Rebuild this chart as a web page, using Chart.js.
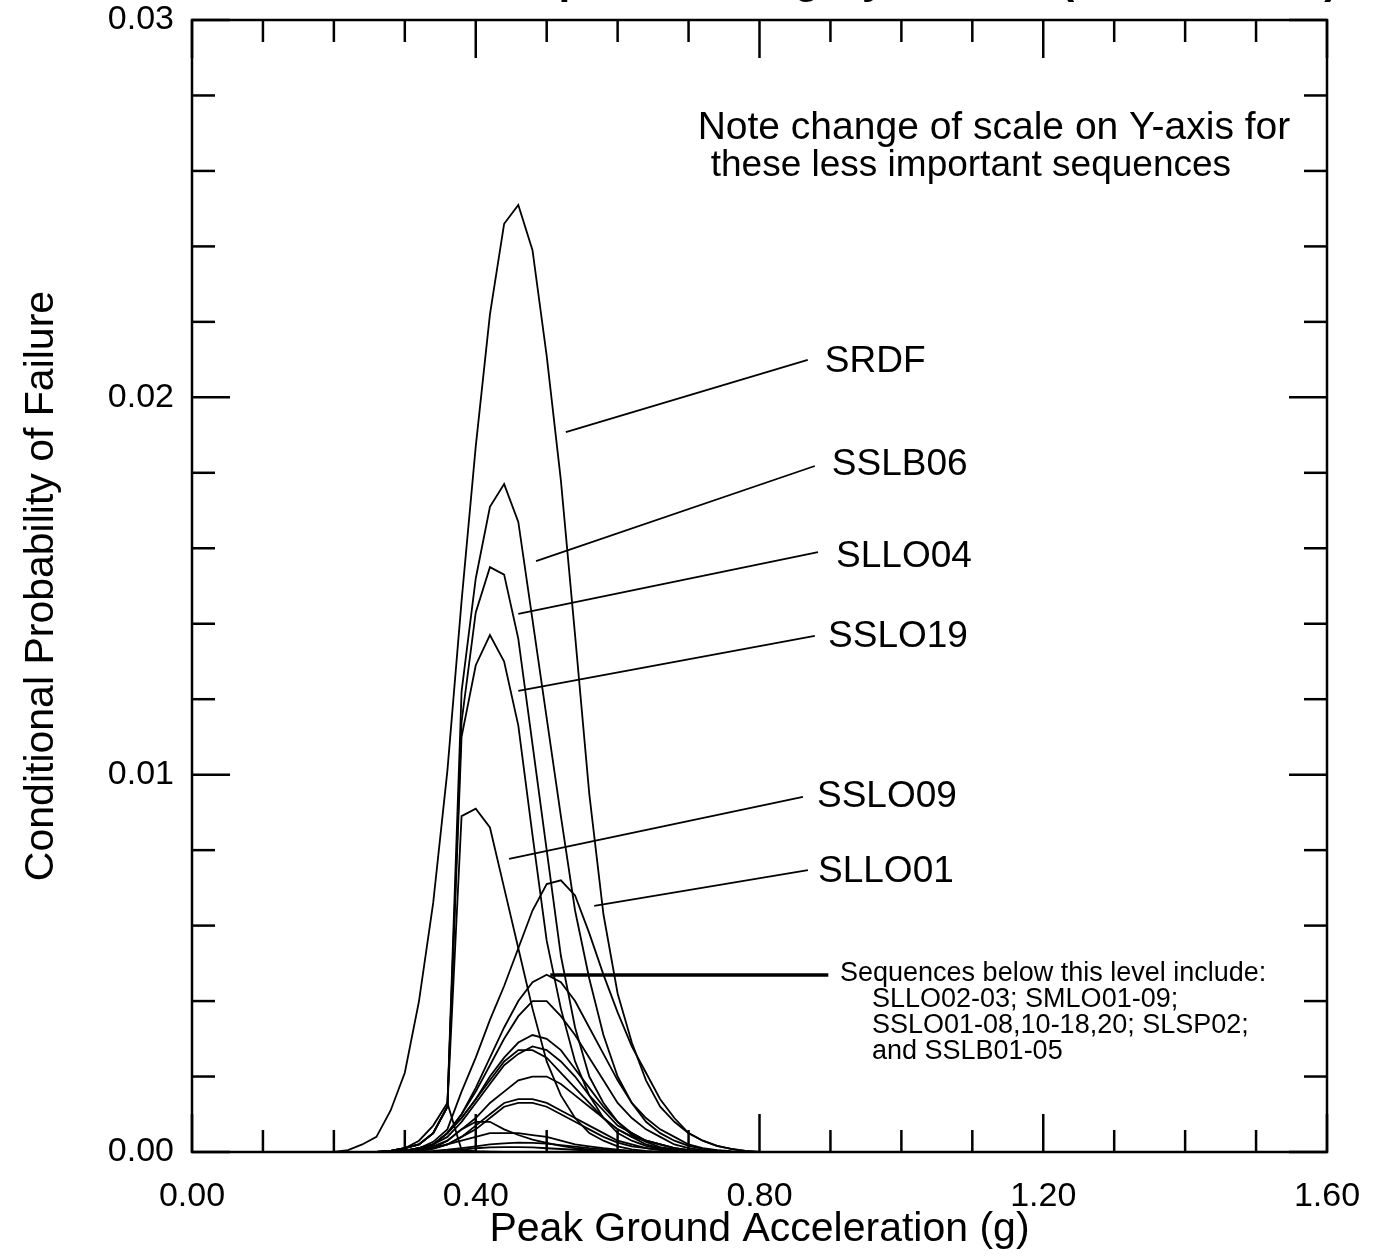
<!DOCTYPE html>
<html>
<head>
<meta charset="utf-8">
<script src="https://cdn.jsdelivr.net/npm/chart.js@4.4.1/dist/chart.umd.min.js"></script>
<style>
  html, body { margin: 0; padding: 0; background: #fff; }
  canvas { display: block; }
</style>
</head>
<body>
<canvas id="c" width="1374" height="1259"></canvas>
<script>
// peak ground acceleration grid (g)
const pga = [0.20, 0.22, 0.24, 0.26, 0.28, 0.30, 0.32, 0.34, 0.36, 0.38,
             0.40, 0.42, 0.44, 0.46, 0.48, 0.50, 0.52, 0.54, 0.56, 0.58,
             0.60, 0.62, 0.64, 0.66, 0.68, 0.70, 0.72, 0.74, 0.76, 0.78, 0.80];

// labelled sequences
const srdf   = [0, 0.00005, 0.0002, 0.0004, 0.0011, 0.0021, 0.0040, 0.0066, 0.0101, 0.0146,
                0.0187, 0.0222, 0.0246, 0.0251, 0.0239, 0.0211, 0.0178, 0.0137, 0.0095, 0.0063,
                0.0042, 0.0029, 0.0019, 0.0012, 0.0008, 0.0005, 0.0003, 0.00016, 0.00008, 0.00003, 0];
const sslb06 = [0, 0, 0, 0, 0.00003, 0.0001, 0.0002, 0.0005, 0.0012, 0.0122,
                0.0152, 0.0171, 0.0177, 0.0167, 0.0141, 0.0115, 0.0089, 0.0064, 0.0046, 0.0031,
                0.0020, 0.0013, 0.0008, 0.0005, 0.0003, 0.00016, 0.00008, 0.00004, 0.00001, 0, 0];
const sllo04 = [0, 0, 0, 0, 0.00003, 0.0001, 0.0002, 0.0005, 0.0012, 0.0114,
                0.0143, 0.0155, 0.0153, 0.0136, 0.0108, 0.0080, 0.0052, 0.0033, 0.0020, 0.0013,
                0.0008, 0.00045, 0.00027, 0.00013, 0.00007, 0.00003, 0, 0, 0, 0, 0];
const sslo19 = [0, 0, 0, 0, 0.00003, 0.0001, 0.0002, 0.0005, 0.0012, 0.0110,
                0.0129, 0.0137, 0.0130, 0.0113, 0.0084, 0.0056, 0.0038, 0.0024, 0.0015, 0.0009,
                0.0005, 0.0003, 0.00016, 0.00008, 0.00003, 0, 0, 0, 0, 0, 0];
const sslo09 = [0, 0, 0, 0, 0.00003, 0.0001, 0.0002, 0.0005, 0.0012, 0.0089,
                0.0091, 0.0086, 0.0070, 0.0054, 0.0038, 0.0024, 0.0015, 0.0009, 0.0005, 0.0003,
                0.00015, 0.00007, 0.00003, 0, 0, 0, 0, 0, 0, 0, 0];
const sllo01 = [0, 0, 0, 0, 0, 0.00004, 0.0001, 0.00027, 0.0006, 0.0016,
                0.0025, 0.0035, 0.0044, 0.0054, 0.0064, 0.0071, 0.0072, 0.0068, 0.0058, 0.0047,
                0.0037, 0.0028, 0.0021, 0.0014, 0.0009, 0.0005, 0.0003, 0.00016, 0.00008, 0.00003, 0];

// the less important sequences grouped below the bold leader
const lowerA = [0, 0, 0, 0, 0, 0.00003, 0.0001, 0.0002, 0.0005, 0.0010,
                0.0017, 0.0025, 0.0033, 0.0040, 0.0045, 0.0047, 0.0045, 0.0040, 0.0033, 0.0026,
                0.0019, 0.0013, 0.0009, 0.0006, 0.0004, 0.0002, 0.0001, 0.00005, 0.00002, 0, 0];
const lowerB = [0, 0, 0, 0, 0, 0.00003, 0.0001, 0.0002, 0.0005, 0.0010,
                0.0016, 0.0023, 0.0030, 0.0036, 0.0040, 0.0040, 0.0036, 0.0031, 0.0025, 0.0019,
                0.0013, 0.0009, 0.0006, 0.0004, 0.0002, 0.0001, 0.00005, 0.00002, 0, 0, 0];
const lowerC = [0, 0, 0, 0, 0, 0.00003, 0.0001, 0.0002, 0.0005, 0.0009,
                0.0014, 0.0020, 0.0025, 0.0029, 0.0031, 0.0030, 0.0027, 0.0022, 0.0017, 0.0012,
                0.0008, 0.0005, 0.0003, 0.0002, 0.0001, 0.00005, 0.00002, 0, 0, 0, 0];
const lowerD = [0, 0, 0, 0, 0, 0.00002, 0.00008, 0.0002, 0.0004, 0.0008,
                0.0013, 0.0018, 0.0023, 0.0026, 0.0028, 0.0027, 0.0024, 0.0020, 0.0015, 0.0011,
                0.0007, 0.0005, 0.0003, 0.0002, 0.0001, 0.00005, 0.00002, 0, 0, 0, 0];
const lowerE = [0, 0, 0, 0, 0, 0.00003, 0.0001, 0.0002, 0.0005, 0.0009,
                0.0014, 0.0019, 0.0024, 0.0027, 0.0027, 0.0025, 0.0021, 0.0017, 0.0013, 0.0009,
                0.0006, 0.0004, 0.0002, 0.0001, 0.00006, 0.00003, 0, 0, 0, 0, 0];
const lowerF = [0, 0, 0, 0, 0, 0.00002, 0.00006, 0.00015, 0.0003, 0.0006,
                0.0009, 0.0013, 0.0016, 0.0019, 0.0020, 0.0020, 0.0018, 0.0015, 0.0012, 0.0009,
                0.0006, 0.0004, 0.0003, 0.0002, 0.0001, 0.00005, 0.00002, 0, 0, 0, 0];
const lowerG = [0, 0, 0, 0, 0, 0.00002, 0.00005, 0.0001, 0.0002, 0.0004,
                0.0007, 0.0010, 0.0013, 0.0014, 0.0014, 0.0013, 0.0011, 0.0009, 0.0007, 0.0005,
                0.0003, 0.0002, 0.0001, 0.00006, 0.00003, 0.00001, 0, 0, 0, 0, 0];
const lowerH = [0, 0, 0, 0, 0, 0.00002, 0.00005, 0.0001, 0.0002, 0.0004,
                0.0006, 0.0009, 0.0012, 0.0013, 0.0013, 0.0012, 0.0010, 0.0008, 0.0006, 0.0004,
                0.00025, 0.00015, 0.0001, 0.00005, 0.00002, 0, 0, 0, 0, 0, 0];
const lowerI = [0, 0, 0, 0, 0, 0.00002, 0.00005, 0.0001, 0.0003, 0.0006,
                0.0008, 0.0008, 0.0006, 0.00045, 0.00033, 0.00024, 0.00016, 0.0001, 0.00006, 0.00003,
                0.00001, 0, 0, 0, 0, 0, 0, 0, 0, 0, 0];
const lowerJ = [0, 0, 0, 0, 0, 0.00001, 0.00003, 0.00008, 0.0002, 0.0003,
                0.0004, 0.0005, 0.0005, 0.0005, 0.00045, 0.0004, 0.0003, 0.0002, 0.00015, 0.0001,
                0.00006, 0.00003, 0.00001, 0, 0, 0, 0, 0, 0, 0, 0];
const lowerK = [0, 0, 0, 0, 0, 0, 0.00001, 0.00003, 0.00006, 0.0001,
                0.00015, 0.0002, 0.00023, 0.00025, 0.00024, 0.00022, 0.00018, 0.00014, 0.0001, 0.00007,
                0.00004, 0.00002, 0.00001, 0, 0, 0, 0, 0, 0, 0, 0];
const lowerL = [0, 0, 0, 0, 0.00003, 0.0001, 0.0003, 0.0007, 0.0013, 0.00005,
                0.00002, 0.00001, 0, 0, 0, 0, 0, 0, 0, 0,
                0, 0, 0, 0, 0, 0, 0, 0, 0, 0, 0];
const lowerM = [0, 0, 0, 0, 0, 0, 0, 0.00001, 0.00003, 0.00006,
                0.0001, 0.00012, 0.00013, 0.00013, 0.00012, 0.0001, 0.00008, 0.00006, 0.00004, 0.00002,
                0.00001, 0, 0, 0, 0, 0, 0, 0, 0, 0, 0];

const xTickLabels = ['0.00', '0.40', '0.80', '1.20', '1.60'];
const yTickLabels = ['0.00', '0.01', '0.02', '0.03'];

const seriesNames = ['SRDF', 'SSLB06', 'SLLO04', 'SSLO19', 'SSLO09', 'SLLO01'];
const seriesValues = [srdf, sslb06, sllo04, sslo19, sslo09, sllo01];
const lowerValues = [lowerA, lowerB, lowerC, lowerD, lowerE, lowerF, lowerG,
                     lowerH, lowerI, lowerJ, lowerK, lowerL, lowerM];

const noteLines = ['Note change of scale on Y-axis for', 'these less important sequences'];
const groupLines = ['Sequences below this level include:', 'SLLO02-03; SMLO01-09;',
                    'SSLO01-08,10-18,20; SLSP02;', 'and SSLB01-05'];

// leaders: [from x, from y, to x, to y, text x, text y] in data units
const leaders = [
  [0.527, 0.01908, 0.868, 0.02099, 0.892, 0.02094],
  [0.485, 0.01566, 0.878, 0.01818, 0.902, 0.01821],
  [0.460, 0.01426, 0.8825, 0.0159, 0.908, 0.01577],
  [0.460, 0.01222, 0.878, 0.01368, 0.8966, 0.01365],
  [0.447, 0.00777, 0.8613, 0.00941, 0.881, 0.00941],
  [0.567, 0.00652, 0.8683, 0.00747, 0.8825, 0.00742]
];

const FONT = "'Liberation Sans', Arial, Helvetica, sans-serif";

function points(vals) {
  return vals.map((v, i) => ({ x: pga[i], y: v }));
}

const datasets = [];
seriesValues.forEach((vals, i) => {
  datasets.push({ label: seriesNames[i], data: points(vals) });
});
lowerValues.forEach((vals, i) => {
  datasets.push({ label: 'lower' + i, data: points(vals) });
});
datasets.forEach(d => {
  d.borderColor = '#000';
  d.borderWidth = 1.8;
  d.pointRadius = 0;
  d.fill = false;
  d.tension = 0;
});

// keep tick labels from pushing the plot frame around
function noOverflow(s) {
  s.paddingTop = 0; s.paddingBottom = 0; s.paddingLeft = 0; s.paddingRight = 0;
}

const decorations = {
  id: 'decorations',
  afterDraw(chart) {
    const ctx = chart.ctx;
    const a = chart.chartArea;
    const x = chart.scales.x;
    const y = chart.scales.y;
    const seg = (x1, y1, x2, y2) => {
      ctx.beginPath(); ctx.moveTo(x1, y1); ctx.lineTo(x2, y2); ctx.stroke();
    };
    ctx.save();
    ctx.strokeStyle = '#000';
    ctx.fillStyle = '#000';

    // frame
    ctx.lineWidth = 2.5;
    ctx.strokeRect(a.left, a.top, a.right - a.left, a.bottom - a.top);

    // inward ticks on all four sides
    for (let i = 0; i <= 16; i++) {
      const px = x.getPixelForValue(i * 0.1);
      const len = i % 4 === 0 ? 38 : 22;
      seg(px, a.bottom, px, a.bottom - len);
      seg(px, a.top, px, a.top + len);
    }
    for (let i = 0; i <= 15; i++) {
      const py = y.getPixelForValue(i * 0.002);
      const len = i % 5 === 0 ? 38 : 23;
      seg(a.left, py, a.left + len, py);
      seg(a.right, py, a.right - len, py);
    }

    // leaders and sequence names
    ctx.lineWidth = 1.8;
    ctx.font = '37px ' + FONT;
    ctx.textAlign = 'left';
    ctx.textBaseline = 'middle';
    leaders.forEach((l, i) => {
      seg(x.getPixelForValue(l[0]), y.getPixelForValue(l[1]),
          x.getPixelForValue(l[2]), y.getPixelForValue(l[3]));
      ctx.fillText(seriesNames[i], x.getPixelForValue(l[4]), y.getPixelForValue(l[5]));
    });

    // bold leader for the grouped sequences
    ctx.lineWidth = 3.5;
    seg(x.getPixelForValue(0.505), y.getPixelForValue(0.00469),
        x.getPixelForValue(0.897), y.getPixelForValue(0.00469));
    ctx.font = '27px ' + FONT;
    ctx.fillText(groupLines[0], x.getPixelForValue(0.9135), y.getPixelForValue(0.00474));
    ctx.fillText(groupLines[1], x.getPixelForValue(0.9586), y.getPixelForValue(0.00403));
    ctx.fillText(groupLines[2], x.getPixelForValue(0.9586), y.getPixelForValue(0.00334));
    ctx.fillText(groupLines[3], x.getPixelForValue(0.9586), y.getPixelForValue(0.00265));

    // scale note
    ctx.textAlign = 'center';
    ctx.font = '39px ' + FONT;
    ctx.fillText(noteLines[0], x.getPixelForValue(1.1305), y.getPixelForValue(0.02713));
    ctx.font = '37px ' + FONT;
    ctx.fillText(noteLines[1], x.getPixelForValue(1.098), y.getPixelForValue(0.02613));

    // page title, cut off by the top edge of the scan
    ctx.font = 'bold 42px ' + FONT;
    ctx.textBaseline = 'alphabetic';
    ctx.fillText('Seismic Sequence Category Results (Less Critical)', x.getPixelForValue(0.90), -7);
    ctx.restore();
  }
};

new Chart(document.getElementById('c'), {
  type: 'line',
  data: { datasets: datasets },
  options: {
    responsive: false,
    animation: false,
    devicePixelRatio: 1,
    layout: { padding: { top: 20, right: 47, left: 0, bottom: 0 } },
    plugins: { legend: { display: false }, tooltip: { enabled: false } },
    scales: {
      x: {
        type: 'linear',
        min: 0, max: 1.6,
        grid: { display: false, drawTicks: false },
        border: { display: false },
        ticks: {
          stepSize: 0.4,
          color: '#000',
          padding: 24,
          maxRotation: 0,
          font: { family: FONT, size: 34 },
          callback: (v, i) => xTickLabels[i]
        },
        title: {
          display: true,
          text: 'Peak Ground Acceleration (g)',
          color: '#000',
          font: { family: FONT, size: 41 },
          padding: { top: 0, bottom: 5 }
        },
        afterFit: s => { s.height = 107; noOverflow(s); }
      },
      y: {
        type: 'linear',
        min: 0, max: 0.03,
        grid: { display: false, drawTicks: false },
        border: { display: false },
        ticks: {
          stepSize: 0.01,
          color: '#000',
          padding: 18,
          font: { family: FONT, size: 34 },
          callback: (v, i) => yTickLabels[i]
        },
        title: {
          display: true,
          text: 'Conditional Probability of Failure',
          color: '#000',
          font: { family: FONT, size: 41 },
          padding: { top: 17, bottom: 0 }
        },
        afterFit: s => { s.width = 192; noOverflow(s); }
      }
    }
  },
  plugins: [decorations]
});
</script>
</body>
</html>
